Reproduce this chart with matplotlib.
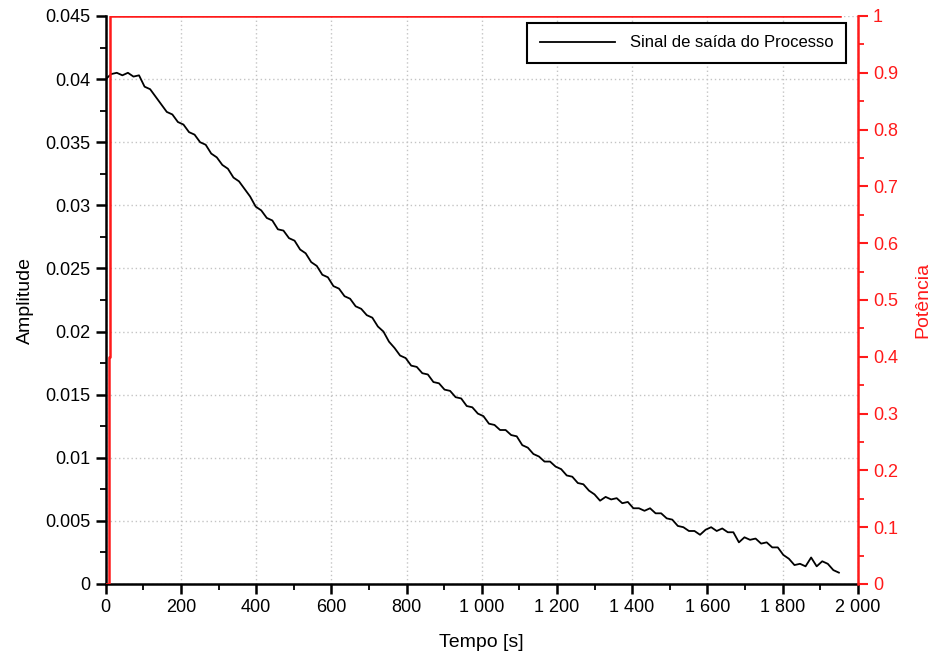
import numpy as np
import matplotlib
matplotlib.use("Agg")
import matplotlib.pyplot as plt
from matplotlib.ticker import FuncFormatter, MultipleLocator

plt.rcParams['font.family'] = ['Liberation Sans', 'DejaVu Sans']

# ---- data ----
amplitude = [
    0.0400, 0.0404, 0.0405, 0.0403, 0.0405, 0.0402, 0.0403, 0.0394, 0.0392, 0.0386,
    0.0380, 0.0374, 0.0372, 0.0366, 0.0364, 0.0358, 0.0356, 0.0350, 0.0348, 0.0341,
    0.0338, 0.0332, 0.0329, 0.0322, 0.0319, 0.0313, 0.0307, 0.0299, 0.0296, 0.0290,
    0.0288, 0.0281, 0.0280, 0.0274, 0.0272, 0.0265, 0.0262, 0.0255, 0.0252, 0.0245,
    0.0243, 0.0236, 0.0234, 0.0228, 0.0226, 0.0220, 0.0218, 0.0213, 0.0211, 0.0204,
    0.0200, 0.0192, 0.0187, 0.0181, 0.0179, 0.0173, 0.0172, 0.0167, 0.0166, 0.0160,
    0.0159, 0.0154, 0.0153, 0.0148, 0.0147, 0.0141, 0.0140, 0.0135, 0.0133, 0.0127,
    0.0126, 0.0122, 0.0122, 0.0118, 0.0117, 0.0110, 0.0108, 0.0103, 0.0101, 0.0097,
    0.0097, 0.0093, 0.0091, 0.0086, 0.0085, 0.0080, 0.0079, 0.0074, 0.0071, 0.0066,
    0.0069, 0.0067, 0.0068, 0.0064, 0.0065, 0.0060, 0.0060, 0.0058, 0.0060, 0.0056,
    0.0056, 0.0052, 0.0051, 0.0046, 0.0045, 0.0042, 0.0042, 0.0039, 0.0043, 0.0045,
    0.0042, 0.0044, 0.0041, 0.0041, 0.0033, 0.0037, 0.0035, 0.0036, 0.0032, 0.0033,
    0.0029, 0.0029, 0.0023, 0.0020, 0.0015, 0.0016, 0.0014, 0.0021, 0.0014, 0.0018,
    0.0016, 0.0011, 0.0009,
]
t_start, t_end = 0, 1950
t_out = np.linspace(t_start, t_end, len(amplitude))
t_pot = [0, 8, 8, 12, 12, 1953]
potencia = [0, 0, 0.4, 0.4, 1, 1]

x_ticks = list(range(0, 2001, 200))
y_ticks = [0, 0.005, 0.01, 0.015, 0.02, 0.025, 0.03, 0.035, 0.04, 0.045]
y2_ticks = [0, 0.1, 0.2, 0.3, 0.4, 0.5, 0.6, 0.7, 0.8, 0.9, 1]

legend_label = "Sinal de saída do Processo"

# ---- figure ----
fig = plt.figure(figsize=(9.36, 6.59), dpi=100)
ax = fig.add_axes([105.7/936, 1 - 584/659, (857.7-105.7)/936, (584-16)/659])
ax2 = ax.twinx()

ax.plot(t_out, amplitude, color='black', lw=1.3, label=legend_label, zorder=3)
ax2.plot(t_pot, potencia, color='#ff1a1a', lw=1.8, zorder=3)

ax.set_xlim(0, 2000)
ax.set_ylim(0, 0.045)
ax2.set_ylim(0, 1)

ax.set_xticks(x_ticks)
ax.set_yticks(y_ticks)
ax2.set_yticks(y2_ticks)
ax.xaxis.set_minor_locator(MultipleLocator(100))
ax.yaxis.set_minor_locator(MultipleLocator(0.0025))
ax2.yaxis.set_minor_locator(MultipleLocator(0.05))

ax.xaxis.set_major_formatter(FuncFormatter(lambda v, p: f"{int(round(v)):,}".replace(",", " ")))
ax.yaxis.set_major_formatter(FuncFormatter(lambda v, p: "0" if abs(v) < 1e-12 else f"{v:g}"))
ax2.yaxis.set_major_formatter(FuncFormatter(lambda v, p: "0" if abs(v) < 1e-12 else f"{v:g}"))

ax.grid(True, which='major', color='#c4c4c4', linestyle=(0, (1, 2)), lw=1.0)
ax.set_axisbelow(True)

for a in (ax, ax2):
    a.spines['top'].set_visible(False)
ax.spines['left'].set_linewidth(1.8)
ax.spines['bottom'].set_linewidth(1.8)
ax.spines['right'].set_visible(False)
ax2.spines['left'].set_visible(False)
ax2.spines['bottom'].set_visible(False)
ax2.spines['right'].set_color('#ff1a1a')
ax2.spines['right'].set_linewidth(1.8)

ax.tick_params(axis='both', which='major', direction='out', length=7, width=1.8,
               labelsize=13, colors='black', pad=4)
ax.tick_params(axis='both', which='minor', direction='out', length=4, width=1.3)
ax2.tick_params(axis='y', which='major', direction='out', length=7, width=1.5,
                labelsize=13, colors='#ff1a1a', pad=4)
ax2.tick_params(axis='y', which='minor', direction='out', length=4, width=1.3, colors='#ff1a1a')

ax.set_xlabel("Tempo [s]", fontsize=14, labelpad=13)
ax.set_ylabel("Amplitude", fontsize=14, labelpad=8)
ax2.set_ylabel("Potência", fontsize=14, color='#ff1a1a', labelpad=12)

leg = ax.legend(loc='upper right', bbox_to_anchor=(0.9844, 0.9877), borderaxespad=0,
                frameon=True, fancybox=False, handlelength=4.5, handletextpad=0.9,
                borderpad=0.75, prop={'size': 12})
leg.get_frame().set_edgecolor('black')
leg.get_frame().set_linewidth(1.5)
leg.get_frame().set_alpha(1)

fig.savefig("out.png", dpi=100)
